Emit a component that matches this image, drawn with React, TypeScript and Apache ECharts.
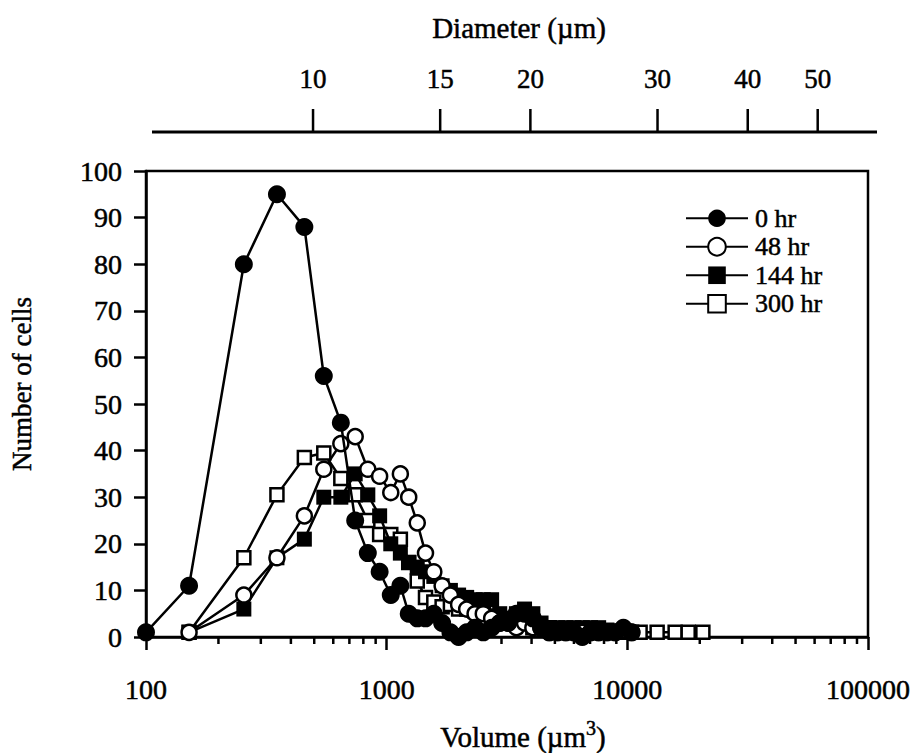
import React, { useEffect, useRef } from 'react';
import * as echarts from 'echarts';

// Volume bins (µm³)
const VOLUME = [
  100, 151, 255, 350, 455, 548, 645, 740, 835, 935, 1040, 1140, 1235, 1340, 1450,
  1570, 1700, 1840, 1990, 2150, 2330, 2520, 2730, 2950, 3200, 3460, 3740, 4050, 4380,
  4740, 5130, 5550, 6000, 6500, 7030, 7600, 8230, 8900, 9630, 10420, 11300, 13300,
  15800, 17900, 20600,
];

const HR0 = [
  1, 11, 80, 95, 88, 56, 46, 25, 18, 14, 9, 11, 5, 4, 4,
  5, 3, 1, 0, 1, 2, 1, 2, 3, 3, 5, 5, 4, 2,
  1, 1, 1, 1, 0, 1, 1, 1, 1, 2, 1, null, null,
  null, null, null,
];

const HR48 = [
  null, 1, 9, 17, 26, 36, 41.5, 43, 36, 34.5, 31, 35, 30, 24.5, 18,
  14, 11, 9, 7, 6, 5, 5, 4, 3, 3, 2, 3, 2, 2,
  1, 1, 1, 1, 1, 1, 1, 1, 1, 1.5, 1, null, null,
  null, null, null,
];

const HR144 = [
  null, 1, 6, 17, 21, 30, 30, 35, 30.5, 26, 20, 18, 16, 15, 14,
  13, 11, 10, 9, 8.5, 8, 8, 8, 5, 4, 5, 6, 5, 3,
  2, 2, 2, 2, 2, 2, 2, 1.5, 1, 1, null, null, null,
  null, null, null,
];

const HR300 = [
  null, 1, 17, 30.5, 38.5, 39.5, 34, 30.5, 25, 22, 22, 21, 16, 12, 8.5,
  7.5, 6.5, 7, 6, 6, 5.5, 5.5, 4.5, 4, 3, 3, 3, 2, 2,
  2, 1, 1, 1, 1, 1, 1, 1, 1, 1, 1, 1, 1,
  1, 1, 1,
];

const SERIES_NAMES = ['0 hr', '48 hr', '144 hr', '300 hr'];

const X_MINOR_TICKS = [
  200, 300, 400, 500, 600, 700, 800, 900,
  2000, 3000, 4000, 5000, 6000, 7000, 8000, 9000,
  20000, 30000, 40000, 50000, 60000, 70000, 80000, 90000,
];

const DIAMETER_TICKS = [10, 15, 20, 30, 40, 50];

const FONT = '"Liberation Serif", "Times New Roman", serif';
const TEXT_BORDER = { textBorderColor: '#000', textBorderWidth: 0.5 };

function pairs(ys: (number | null)[]) {
  return VOLUME.map((v, i) => [v, ys[i]]).filter((p) => p[1] !== null);
}

export default function App() {
  const ref = useRef<HTMLDivElement>(null);

  useEffect(() => {
    if (!ref.current) return;
    const chart = echarts.init(ref.current, null, { renderer: 'svg' });

    const lineSeries = (
      name: string,
      ys: (number | null)[],
      symbol: string,
      size: number,
      filled: boolean,
      z: number
    ) => ({
      type: 'line',
      name,
      data: pairs(ys),
      symbol,
      symbolSize: size,
      showSymbol: true,
      showAllSymbol: true,
      xAxisIndex: 0,
      yAxisIndex: 0,
      z,
      silent: true,
      lineStyle: { color: '#000', width: 2.5 },
      itemStyle: {
        color: filled ? '#000' : '#fff',
        borderColor: '#000',
        borderWidth: filled ? 0 : 2.5,
        opacity: 1,
      },
      emphasis: { disabled: true },
    });

    const textStyle = (text: string, size: number) => ({
      text,
      fill: '#000',
      fontSize: size,
      fontFamily: FONT,
      stroke: '#000',
      lineWidth: 0.5,
      align: 'center',
      verticalAlign: 'middle',
      textAlign: 'center',
      textVerticalAlign: 'middle',
    });

    const option: any = {
      animation: false,
      backgroundColor: '#fff',
      grid: [
        {
          left: 146,
          right: 51,
          top: 171,
          bottom: 116,
          show: true,
          borderColor: '#000',
          borderWidth: 2.5,
          backgroundColor: 'transparent',
        },
        { left: 140, right: 57, top: 100, height: 32, show: false },
      ],
      legend: {
        data: SERIES_NAMES,
        orient: 'vertical',
        left: 680,
        top: 200,
        itemWidth: 62,
        itemHeight: 22,
        itemGap: 2,
        selectedMode: false,
        textStyle: {
          color: '#000',
          fontSize: 26,
          lineHeight: 26,
          fontFamily: FONT,
          padding: [0, 0, 0, 2],
          ...TEXT_BORDER,
        },
      },
      xAxis: [
        {
          type: 'log',
          logBase: 10,
          gridIndex: 0,
          min: 100,
          max: 100000,
          axisLine: { show: true, lineStyle: { color: '#000', width: 2.5 } },
          axisTick: { show: true, length: 13, inside: false, lineStyle: { color: '#000', width: 2.5 } },
          minorTick: { show: false },
          splitLine: { show: false },
          axisLabel: {
            color: '#000',
            fontSize: 28,
            fontFamily: FONT,
            margin: 38,
            ...TEXT_BORDER,
            formatter: (v: number) => String(Math.round(v)),
          },
        },
        {
          type: 'log',
          logBase: 10,
          gridIndex: 1,
          min: 100,
          max: 100000,
          show: false,
        },
      ],
      yAxis: [
        {
          type: 'value',
          gridIndex: 0,
          min: 0,
          max: 100,
          interval: 10,
          axisLine: { show: true, lineStyle: { color: '#000', width: 2.5 } },
          axisTick: { show: true, length: 12, inside: false, lineStyle: { color: '#000', width: 2.5 } },
          splitLine: { show: false },
          axisLabel: { color: '#000', fontSize: 28, fontFamily: FONT, margin: 24, ...TEXT_BORDER },
        },
        { type: 'value', gridIndex: 1, min: 0, max: 1, show: false },
      ],
      series: [
        lineSeries('300 hr', HR300, 'rect', 13, false, 3),
        lineSeries('144 hr', HR144, 'rect', 15, true, 4),
        lineSeries('48 hr', HR48, 'circle', 15, false, 5),
        lineSeries('0 hr', HR0, 'circle', 18, true, 6),
        {
          type: 'custom',
          xAxisIndex: 0,
          yAxisIndex: 0,
          silent: true,
          clip: false,
          z: 1,
          data: X_MINOR_TICKS.map((v) => [v, 0]),
          renderItem: (params: any, api: any) => {
            const p = api.coord([api.value(0), 0]);
            return {
              type: 'line',
              shape: { x1: p[0], y1: p[1], x2: p[0], y2: p[1] + 7 },
              style: { stroke: '#000', lineWidth: 2.5 },
            };
          },
        },
        {
          type: 'custom',
          xAxisIndex: 1,
          yAxisIndex: 1,
          silent: true,
          clip: false,
          data: DIAMETER_TICKS.map((d) => [(Math.PI / 6) * d * d * d, d]),
          renderItem: (params: any, api: any) => {
            const p = api.coord([api.value(0), 0]);
            return {
              type: 'group',
              children: [
                {
                  type: 'line',
                  shape: { x1: p[0], y1: p[1], x2: p[0], y2: p[1] - 23 },
                  style: { stroke: '#000', lineWidth: 2.5 },
                },
                {
                  type: 'text',
                  x: p[0],
                  y: p[1] - 53,
                  style: textStyle(String(api.value(1)), 27),
                },
              ],
            };
          },
        },
      ],
      graphic: [
        {
          type: 'line',
          shape: { x1: 152, y1: 132, x2: 877, y2: 132 },
          style: { stroke: '#000', lineWidth: 3 },
        },
        {
          type: 'text',
          x: 519,
          y: 28,
          style: textStyle('Diameter (µm)', 29),
        },
        {
          type: 'text',
          x: 22,
          y: 384,
          rotation: Math.PI / 2,
          style: textStyle('Number of cells', 27),
        },
        {
          type: 'text',
          x: 523,
          y: 737,
          style: {
            ...textStyle('Volume (µm{sup|3})', 29),
            lineHeight: 38,
            rich: {
              sup: {
                fontSize: 20,
                fontFamily: FONT,
                fill: '#000',
                verticalAlign: 'top',
                lineHeight: 20,
              },
            },
          },
        },
      ],
    };

    chart.setOption(option);
    return () => {
      chart.dispose();
    };
  }, []);

  return (
    <div
      ref={ref}
      style={{ position: 'absolute', left: 0, top: 0, width: 919, height: 753, background: '#fff' }}
    />
  );
}
